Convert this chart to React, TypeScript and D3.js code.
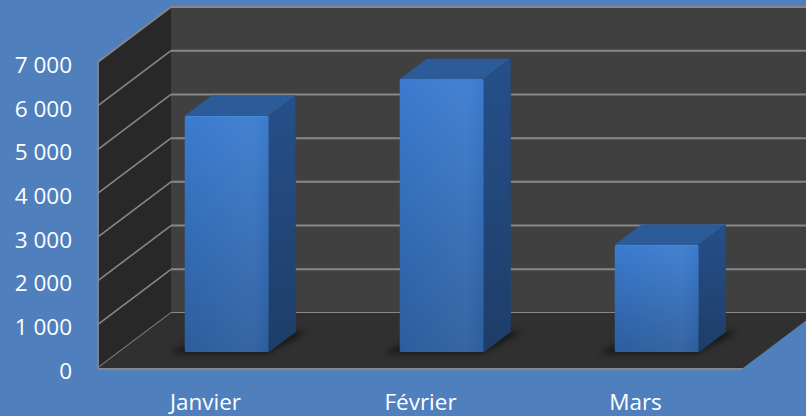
import React from "react";
import * as d3 from "d3";

const months = ["Janvier", "Février", "Mars"];
const values = [5400, 6240, 2450];
const yTicks = [0, 1000, 2000, 3000, 4000, 5000, 6000, 7000];

const W = 806;
const H = 416;
const DX = 73; // depth shift x
const DY = 55; // depth shift y
const Z0 = 0.29;
const Z1 = 0.66;

const locale = d3.formatLocale({ decimal: ",", thousands: " ", grouping: [3], currency: ["", " €"] });
const fmt = locale.format(",d");

export default function App() {
  const x = d3.scaleBand<string>().domain(months).range([98, 743]).paddingInner(0).paddingOuter(0);
  const y = d3.scaleLinear().domain([0, 7000]).range([368, 62]);
  const bw = x.bandwidth() * 0.39;

  const P = (px: number, py: number, z: number) => [px + z * DX, py - z * DY];
  const poly = (pts: number[][]) => pts.map((p) => p.join(",")).join(" ");

  const x0 = x.range()[0];
  const x1 = x.range()[1];
  const yb = y(0);
  const yt = y(7000);

  const backWall = poly([P(x0, yt, 1), P(x1 + 200, yt, 1), P(x1 + 200, yb, 1), P(x0, yb, 1)]);
  const leftWall = poly([P(x0, yt, 0), P(x0, yt, 1), P(x0, yb, 1), P(x0, yb, 0)]);
  const floor = poly([P(x0, yb, 0), P(x1, yb, 0), P(x1, yb, 1), P(x0, yb, 1)]);

  const font = "'Open Sans', 'Liberation Sans', sans-serif";

  return (
    <div style={{ position: "absolute", left: 0, top: 0 }}>
      <svg width={W} height={H} style={{ display: "block" }}>
        <defs>
          <linearGradient id="front" x1="0" y1="0" x2="0" y2="1">
            <stop offset="0" stopColor="#3b7bcf" />
            <stop offset="1" stopColor="#2c5d9d" />
          </linearGradient>
          <linearGradient id="side" x1="0" y1="0" x2="0" y2="1">
            <stop offset="0" stopColor="#26508a" />
            <stop offset="1" stopColor="#1e3d68" />
          </linearGradient>
          <linearGradient id="frontH" x1="0" y1="0" x2="1" y2="0">
            <stop offset="0" stopColor="#ffffff" stopOpacity="0" />
            <stop offset="0.8" stopColor="#ffffff" stopOpacity="0.05" />
            <stop offset="1" stopColor="#ffffff" stopOpacity="0" />
          </linearGradient>
          <filter id="blur" x="-20%" y="-50%" width="140%" height="200%">
            <feGaussianBlur stdDeviation="3" />
          </filter>
          <clipPath id="clipAll">
            <rect x={0} y={0} width={W} height={H} />
          </clipPath>
        </defs>
        <rect x={0} y={0} width={W} height={H} fill="#4f80bd" />
        <g clipPath="url(#clipAll)">
          <polygon points={backWall} fill="#404040" />
          {yTicks.map((t) => {
            const a = P(x0, y(t), 1);
            return (
              <line key={"bg" + t} x1={a[0]} y1={a[1]} x2={W + 20} y2={a[1]} stroke="#888888" strokeWidth={2} />
            );
          })}
          <polygon points={leftWall} fill="#282828" />
          {yTicks.map((t) => {
            const a = P(x0, y(t), 0);
            const b = P(x0, y(t), 1);
            return (
              <line key={"lg" + t} x1={a[0]} y1={a[1]} x2={b[0]} y2={b[1]} stroke="#878787" strokeWidth={1.6} />
            );
          })}
          <polygon points={floor} fill="#303030" />
          <line x1={x0} y1={yb + 1} x2={x1} y2={yb + 1} stroke="#878787" strokeWidth={2.2} />
          <line x1={x0} y1={yt} x2={x0} y2={yb + 1} stroke="#878787" strokeWidth={1.8} />

          {months.map((m, i) => {
            const cx = (x(m) as number) + x.bandwidth() / 2;
            const l = cx - bw / 2;
            const r = cx + bw / 2;
            const v = values[i];
            const fTL = P(l, y(v), Z0);
            const fTR = P(r, y(v), Z0);
            const fBL = P(l, y(0), Z0);
            const bTL = P(l, y(v), Z1);
            const bTR = P(r, y(v), Z1);
            const bBR = P(r, y(0), Z1);
            const fBR = P(r, y(0), Z0);
            const sh = [P(l - 14, y(0), Z0 - 0.02), P(r, y(0), Z0 - 0.02), P(r + 12, y(0), Z1), P(l, y(0), Z1)];
            return (
              <g key={m}>
                <polygon points={poly(sh)} fill="#000" opacity={0.55} filter="url(#blur)" />
                <polygon points={poly([fTL, bTL, bTR, fTR])} fill="#2b5c99" stroke="#2b5c99" strokeWidth={0.5} strokeLinejoin="round" />
                <polygon points={poly([fTR, bTR, bBR, fBR])} fill="url(#side)" stroke="#224676" strokeWidth={0.5} strokeLinejoin="round" />
                <rect x={fTL[0]} y={fTL[1]} width={fTR[0] - fTL[0]} height={fBL[1] - fTL[1]} fill="url(#front)" rx={1.5} />
                <rect x={fTL[0]} y={fTL[1]} width={fTR[0] - fTL[0]} height={fBL[1] - fTL[1]} fill="url(#frontH)" rx={1.5} />
                <line x1={fTL[0] + 1} y1={fTL[1] + 0.5} x2={fTR[0] - 1} y2={fTR[1] + 0.5} stroke="#4a8ad8" strokeWidth={1} opacity={0.7} />
              </g>
            );
          })}
        </g>

        {yTicks.map((t) => (
          <text
            key={"yt" + t}
            x={72}
            y={y(t)}
            dy="0.48em"
            textAnchor="end"
            fill="#ffffff"
            fontFamily={font}
            fontSize={22.5}
          >
            {fmt(t)}
          </text>
        ))}
        {months.map((m) => (
          <text
            key={"xt" + m}
            x={(x(m) as number) + x.bandwidth() / 2}
            y={410}
            textAnchor="middle"
            fill="#ffffff"
            fontFamily={font}
            fontSize={22.5}
          >
            {m}
          </text>
        ))}
      </svg>
    </div>
  );
}
